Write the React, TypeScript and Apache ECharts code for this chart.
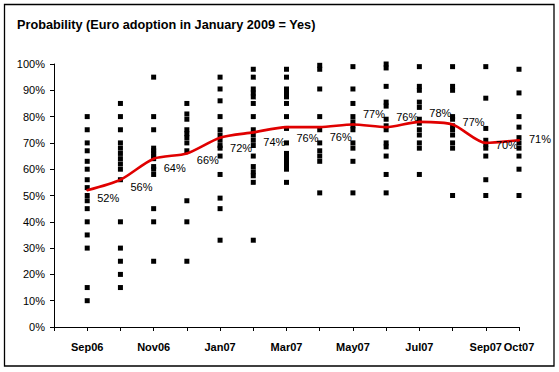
import React, { useEffect, useRef } from "react";
import * as echarts from "echarts";

const axisMonths = ["Aug06", "Sep06", "Oct06", "Nov06", "Dec06", "Jan07", "Feb07", "Mar07", "Apr07", "May07", "Jun07", "Jul07", "Aug07", "Sep07", "Oct07"];
const shownLabels = ["Sep06", "Nov06", "Jan07", "Mar07", "May07", "Jul07", "Sep07", "Oct07"];
const months = ["Sep06", "Oct06", "Nov06", "Dec06", "Jan07", "Feb07", "Mar07", "Apr07", "May07", "Jun07", "Jul07", "Aug07", "Sep07", "Oct07"];
const averages = [52, 56, 64, 66, 72, 74, 76, 76, 77, 76, 78, 77, 70, 71];
const labelDy = [8, 7, 9, 7, 10, 10, 11, 10, -10, -10, -9, -2, 2, -1];

const sep06 = [80, 75, 70, 67, 63, 60, 56, 53, 50, 48, 45, 40, 35, 30, 15, 10];
const oct06 = [85, 80, 75, 70, 68, 66, 64, 62, 60, 56, 40, 30, 25, 20, 15];
const nov06 = [95, 80, 75, 68, 67, 66, 65, 64, 61, 60, 58, 45, 40, 25];
const dec06 = [85, 81, 79, 75, 73.5, 72, 70, 67, 48, 40, 25];
const jan07 = [95, 90.5, 86, 80, 75, 73, 71, 69, 68, 65, 58, 49, 45, 33];
const feb07 = [98, 95, 90.5, 89, 87.5, 85, 80, 75, 73, 71, 69, 65, 61, 59, 57.5, 55, 33];
const mar07 = [98, 95, 90.5, 89, 87.5, 85, 80, 75.5, 70, 66, 64.5, 63, 61.5, 60, 55];
const apr07 = [99.5, 98, 90.5, 80, 75, 70, 67, 65, 63, 51];
const may07 = [99, 90.5, 85, 80, 78, 76.5, 75, 70, 68, 63, 51];
const jun07 = [100, 98.5, 91.5, 85.5, 84, 79, 76.5, 75, 70, 68.5, 65, 58, 51];
const jul07 = [99, 91.5, 90, 85.5, 83.5, 79, 77.5, 75, 73, 70, 68, 58];
const aug07 = [99, 91.5, 90, 80, 79, 76.5, 75, 73, 70, 68, 50];
const sep07 = [99, 87, 75.5, 71, 69.5, 68, 65, 56, 50];
const oct07 = [98, 89, 80, 76, 72, 70, 68, 65, 60, 50];
const responses = [sep06, oct06, nov06, dec06, jan07, feb07, mar07, apr07, may07, jun07, jul07, aug07, sep07, oct07];

const yTicks = [0, 10, 20, 30, 40, 50, 60, 70, 80, 90, 100];

export default function App() {
  const ref = useRef<HTMLDivElement>(null);
  useEffect(() => {
    if (!ref.current) return;
    const chart = echarts.init(ref.current, null, { renderer: "svg" });
    const scatterData: any[] = [];
    responses.forEach((vals, i) => vals.forEach((v) => scatterData.push([months[i], v])));
    const lineData = months.map((m, i) => [m, averages[i]]);
    chart.setOption({
      animation: false,
      backgroundColor: "#ffffff",
      textStyle: { fontFamily: "Arial, 'Liberation Sans', sans-serif" },
      graphic: [
        {
          type: "rect",
          shape: { x: 4.5, y: 4.5, width: 549.5, height: 361.5 },
          style: { fill: "none", stroke: "#000", lineWidth: 1.3 },
          silent: true,
        },
        {
          type: "text",
          x: 17,
          y: 25,
          style: {
            text: "Probability (Euro adoption in January 2009 = Yes)",
            font: "bold 12.7px Arial, 'Liberation Sans', sans-serif",
            fill: "#000",
            verticalAlign: "middle",
          },
        },
      ],
      grid: { left: 54, right: 40, top: 64, bottom: 45, containLabel: false },
      xAxis: {
        type: "category",
        data: axisMonths,
        boundaryGap: false,
        axisLine: { show: true, lineStyle: { color: "#000", width: 1 } },
        axisTick: { show: true, alignWithLabel: true, length: 4, lineStyle: { color: "#000" }, interval: 0 },
        axisLabel: {
          interval: 0,
          margin: 14,
          fontSize: 11,
          fontWeight: "bold",
          color: "#000",
          formatter: (v: string) => (shownLabels.indexOf(v) >= 0 ? v : ""),
        },
        splitLine: { show: false },
      },
      yAxis: {
        type: "value",
        min: yTicks[0],
        max: yTicks[yTicks.length - 1],
        interval: 10,
        axisLine: { show: true, lineStyle: { color: "#000", width: 1 } },
        axisTick: { show: true, length: 4, lineStyle: { color: "#000" } },
        axisLabel: { fontSize: 11, color: "#000", margin: 9, formatter: (v: number) => v + "%" },
        splitLine: { show: false },
      },
      series: [
        {
          type: "scatter",
          data: scatterData,
          symbol: "rect",
          symbolSize: [5, 5],
          itemStyle: { color: "#000", opacity: 1 },
          z: 2,
        },
        {
          type: "line",
          data: lineData,
          smooth: 0.25,
          showSymbol: true,
          symbol: "circle",
          symbolSize: 2,
          itemStyle: { color: "#e00000", borderWidth: 0 },
          lineStyle: { color: "#e00000", width: 2.6 },
          label: {
            show: true,
            position: "right",
            distance: 9,
            fontSize: 11,
            color: "#000000",
            opacity: 1,
            textBorderWidth: 0,
            formatter: (p: any) => p.value[1] + "%",
          },
          labelLayout: (p: any) => ({ dy: labelDy[p.dataIndex], hideOverlap: false }),
          z: 3,
        },
      ],
    });
    return () => chart.dispose();
  }, []);
  return (
    <div
      ref={ref}
      style={{ position: "fixed", left: 0, top: 0, width: 559, height: 372 }}
    />
  );
}
